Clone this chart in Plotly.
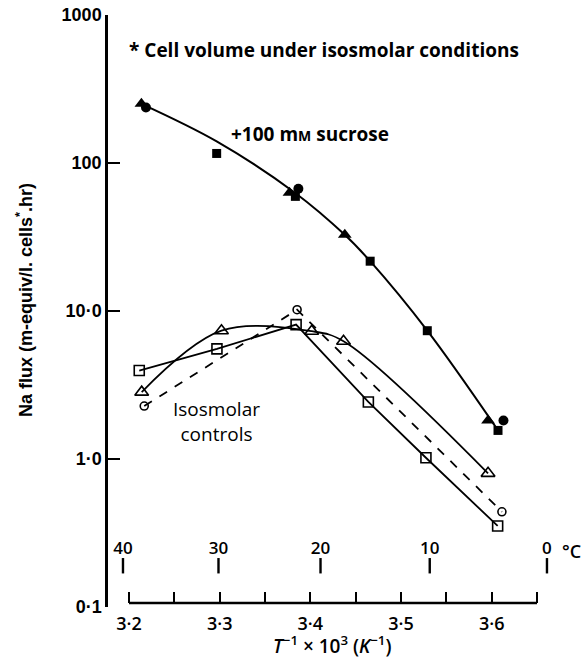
import math
import plotly.graph_objects as go

# ---------------- data ----------------
# +100 mM sucrose (filled symbols)
suc_tri_x = [3.2137, 3.377, 3.438, 3.596]
suc_tri_y = [251, 63, 32.7, 1.82]
suc_cir_x = [3.2187, 3.3868, 3.613]
suc_cir_y = [237, 67, 1.82]
suc_sq_x = [3.2967, 3.3835, 3.466, 3.529, 3.607]
suc_sq_y = [116, 59.5, 21.7, 7.36, 1.56]
# fitted curve through the sucrose points
suc_curve_x = [3.2137, 3.2967, 3.383, 3.438, 3.466, 3.529, 3.604]
suc_curve_y = [251, 140, 63, 32.7, 21.7, 7.36, 1.66]

# isosmolar controls (open symbols)
iso_sq_x = [3.2113, 3.297, 3.3843, 3.464, 3.5275, 3.6066]
iso_sq_y = [3.96, 5.55, 8.09, 2.43, 1.02, 0.353]
iso_tri_x = [3.214, 3.302, 3.4015, 3.4366, 3.596]
iso_tri_y = [2.83, 7.36, 7.3, 6.25, 0.80]
iso_cir_x = [3.2168, 3.3854, 3.6113]
iso_cir_y = [2.28, 10.2, 0.44]

# axis ticks
x_major = [3.2, 3.3, 3.4, 3.5, 3.6]
x_major_labels = ["3·2", "3·3", "3·4", "3·5", "3·6"]
x_minor = [3.25, 3.35, 3.45, 3.55, 3.65]
x_axis_span = [3.2, 3.65]
y_ticks = [0.1, 1, 10, 100, 1000]
y_labels = ["0·1", "1·0", "10·0", "100", "1000"]
celsius = [40, 30, 20, 10, 0]
celsius_labels = ["40", "30", "20", "10", "0"]

# ---------------- figure ----------------
W, H = 586, 659
BLACK = "black"
FONT = "Open Sans"
FONT_Y = "Liberation Sans"

x0_px, x1_px = 129, 537          # pixel positions of 3.2 and 3.65
scale = (x1_px - x0_px) / (x_axis_span[1] - x_axis_span[0])


def px2x(px):
    return x_axis_span[0] + (px - x0_px) / scale


left_px, right_px = 106, 580
x_range = [px2x(left_px), px2x(right_px)]
x_axis_y = 1 - 603 / H

celsius_pos = [1000.0 / (c + 273.15) for c in celsius]

fig = go.Figure()

# sucrose curve
fig.add_trace(go.Scatter(x=suc_curve_x, y=suc_curve_y, mode="lines",
                         line=dict(color=BLACK, width=2, shape="spline", smoothing=1),
                         hoverinfo="skip", showlegend=False))
fig.add_trace(go.Scatter(x=suc_tri_x, y=suc_tri_y, mode="markers",
                         marker=dict(symbol="triangle-up", size=12, color=BLACK),
                         showlegend=False))
fig.add_trace(go.Scatter(x=suc_cir_x, y=suc_cir_y, mode="markers",
                         marker=dict(symbol="circle", size=10, color=BLACK),
                         showlegend=False))
fig.add_trace(go.Scatter(x=suc_sq_x, y=suc_sq_y, mode="markers",
                         marker=dict(symbol="square", size=9, color=BLACK),
                         showlegend=False))

# isosmolar controls
fig.add_trace(go.Scatter(x=iso_tri_x, y=iso_tri_y, mode="lines+markers",
                         line=dict(color=BLACK, width=1.8, shape="spline", smoothing=1),
                         marker=dict(symbol="triangle-up-open", size=12, color=BLACK,
                                     line=dict(width=1.6, color=BLACK)),
                         showlegend=False))
fig.add_trace(go.Scatter(x=iso_sq_x, y=iso_sq_y, mode="lines+markers",
                         line=dict(color=BLACK, width=1.8),
                         marker=dict(symbol="square-open", size=10, color=BLACK,
                                     line=dict(width=1.6, color=BLACK)),
                         showlegend=False))
fig.add_trace(go.Scatter(x=iso_cir_x, y=iso_cir_y, mode="lines+markers",
                         line=dict(color=BLACK, width=1.8, dash="dash"),
                         marker=dict(symbol="circle-open", size=8, color=BLACK,
                                     line=dict(width=1.6, color=BLACK)),
                         showlegend=False))

# Celsius scale: short vertical ticks with labels above
celsius_y = 0.19
fig.add_trace(go.Scatter(x=celsius_pos, y=[celsius_y] * len(celsius_pos),
                         mode="markers+text", cliponaxis=False,
                         marker=dict(symbol="line-ns", size=11,
                                     line=dict(width=2.4, color=BLACK)),
                         text=celsius_labels, textposition="top center",
                         textfont=dict(family=FONT, size=17, color=BLACK, weight=600),
                         hoverinfo="skip", showlegend=False))

y_dom = [1 - 607 / H, 1 - 15 / H]

fig.update_layout(
    width=W, height=H,
    margin=dict(l=0, r=0, t=0, b=0, autoexpand=False),
    paper_bgcolor="white", plot_bgcolor="white",
    showlegend=False,
    xaxis=dict(
        domain=[left_px / W, right_px / W], range=x_range,
        anchor="free", position=x_axis_y,
        showline=False, showgrid=False, zeroline=False,
        ticks="inside", ticklen=11, tickwidth=2.2, tickcolor=BLACK,
        tickvals=x_major + x_minor,
        ticktext=x_major_labels + [""] * len(x_minor),
        tickfont=dict(family=FONT, size=18, color=BLACK, weight=600),
        ticklabelstandoff=8,
        automargin=False,
    ),
    yaxis=dict(
        type="log", domain=y_dom, range=[-1, 3],
        anchor="free", position=left_px / W,
        showline=True, linecolor=BLACK, linewidth=2.5,
        showgrid=False, zeroline=False,
        ticks="inside", ticklen=12, tickwidth=2.2, tickcolor=BLACK,
        tickvals=y_ticks, ticktext=y_labels,
        tickfont=dict(family=FONT_Y, size=18, color=BLACK, weight="bold"),
        automargin=False,
    ),
    shapes=[dict(type="line", xref="x", yref="paper",
                 x0=x_axis_span[0], x1=x_axis_span[1], y0=x_axis_y, y1=x_axis_y,
                 line=dict(color=BLACK, width=2.5))],
)

annotations = [
    dict(x=127 / W, y=1 - 50 / H, xref="paper", yref="paper", xanchor="left",
         yanchor="middle",
         text="<b>* Cell volume under isosmolar conditions</b>", showarrow=False,
         font=dict(family=FONT, size=19, color=BLACK)),
    dict(x=229 / W, y=1 - 134 / H, xref="paper", yref="paper", xanchor="left",
         yanchor="middle",
         text="<b>+100 m<span style='font-size:14px'>M</span> sucrose</b>", showarrow=False,
         font=dict(family=FONT, size=19, color=BLACK)),
    dict(x=216 / W, y=1 - 422 / H, xref="paper", yref="paper", xanchor="center",
         yanchor="middle", text="Isosmolar<br>controls", showarrow=False, align="center",
         font=dict(family=FONT, size=19, color=BLACK)),
    dict(x=571 / W, y=1 - 551 / H, xref="paper", yref="paper", xanchor="center",
         yanchor="middle", text="°C", showarrow=False,
         font=dict(family=FONT, size=18, color=BLACK, weight=600)),
    dict(x=25 / W, y=1 - 300 / H, xref="paper", yref="paper", xanchor="center",
         yanchor="middle", textangle=-90,
         text="<b>Na flux (m-equiv/l. cells<sup>*</sup>.hr)</b>", showarrow=False,
         font=dict(family=FONT_Y, size=18, color=BLACK)),
    dict(x=332 / W, y=1 - 645 / H, xref="paper", yref="paper", xanchor="center",
         yanchor="middle",
         text="<i>T</i><sup>−1</sup> × 10<sup>3</sup> (<i>K</i><sup>−1</sup>)",
         showarrow=False, font=dict(family=FONT, size=19, color=BLACK, weight=600)),
]
fig.update_layout(annotations=annotations)

fig.write_html("out.html")
